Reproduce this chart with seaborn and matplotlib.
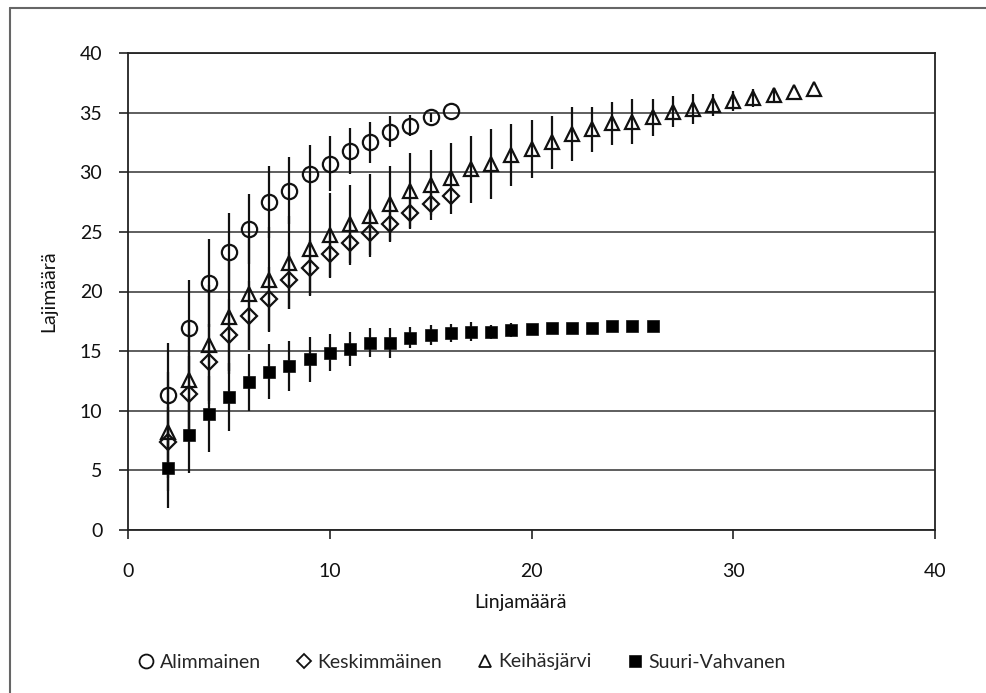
import matplotlib
matplotlib.use("Agg")
import matplotlib.pyplot as plt
import pandas as pd
import seaborn as sns
from matplotlib.lines import Line2D

# ---- data -------------------------------------------------------------
alim_x = list(range(2, 17))
alim_y = [11.3, 16.95, 20.7, 23.3, 25.25, 27.5, 28.45, 29.85, 30.7, 31.8,
          32.5, 33.4, 33.9, 34.6, 35.1]
alim_sd = [4.4, 4.0, 3.7, 3.3, 2.95, 3.0, 2.8, 2.45, 2.3, 1.95,
           1.75, 1.3, 0.9, 0.4, 0.0]

kesk_x = list(range(2, 17))
kesk_y = [7.35, 11.4, 14.05, 16.35, 17.97, 19.35, 20.93, 22.0, 23.17, 24.1,
          24.88, 25.7, 26.55, 27.34, 28.0]
kesk_sd = [3.0, 3.2, 3.2, 3.0, 2.9, 2.7, 2.4, 2.3, 2.0, 1.9,
           1.8, 1.5, 1.2, 0.9, 0.0]

keih_x = list(range(2, 35))
keih_y = [8.25, 12.58, 15.55, 17.9, 19.78, 20.98, 22.4, 23.55, 24.72, 25.65,
          26.36, 27.34, 28.45, 28.93, 29.49, 30.25, 30.69, 31.45, 31.95, 32.5,
          33.2, 33.6, 34.1, 34.24, 34.6, 35.08, 35.27, 35.64, 36.0, 36.2,
          36.48, 36.76, 36.96]
keih_sd = [5.0, 5.0, 5.0, 4.8, 4.7, 4.4, 3.9, 3.9, 3.5, 3.3,
           3.5, 3.2, 3.2, 2.9, 3.0, 2.8, 2.9, 2.6, 2.45, 2.2,
           2.25, 1.9, 1.8, 1.9, 1.55, 1.3, 1.25, 0.95, 0.85, 0.75,
           0.6, 0.0, 0.0]

suuri_x = list(range(2, 27))
suuri_y = [5.17, 7.97, 9.73, 11.18, 12.38, 13.28, 13.78, 14.3, 14.87, 15.18,
           15.7, 15.68, 16.13, 16.35, 16.49, 16.63, 16.63, 16.77, 16.83, 16.96,
           16.96, 16.96, 17.1, 17.1, 17.1]
suuri_sd = [3.35, 3.17, 3.16, 2.85, 2.4, 2.3, 2.1, 1.85, 1.55, 1.4,
            1.2, 1.25, 0.9, 0.85, 0.75, 0.8, 0.6, 0.55, 0.35, 0.4,
            0.25, 0.2, 0.1, 0.05, 0.0]

series_names = ["Alimmainen", "Keskimmäinen", "Keihäsjärvi", "Suuri-Vahvanen"]
x_label = "Linjamäärä"
y_label = "Lajimäärä"
x_ticks = [0, 10, 20, 30, 40]
y_ticks = [0, 5, 10, 15, 20, 25, 30, 35, 40]

frames = []
for name, xs, ys, sds in zip(series_names,
                             [alim_x, kesk_x, keih_x, suuri_x],
                             [alim_y, kesk_y, keih_y, suuri_y],
                             [alim_sd, kesk_sd, keih_sd, suuri_sd]):
    frames.append(pd.DataFrame({"series": name, "x": xs, "y": ys, "sd": sds}))
df = pd.concat(frames, ignore_index=True)

# ---- style ------------------------------------------------------------
sns.set_theme(style="white")
plt.rcParams["font.family"] = ["Lato", "DejaVu Sans"]
plt.rcParams["font.size"] = 14

marker_styles = {
    "Alimmainen":     dict(marker="o", ms=11, mfc="none", mew=1.6),
    "Keskimmäinen":   dict(marker="D", ms=8, mfc="none", mew=1.6),
    "Keihäsjärvi":    dict(marker="^", ms=10.5, mfc="none", mew=1.6),
    "Suuri-Vahvanen": dict(marker="s", ms=9, mfc="black", mew=0.5),
}

fig = plt.figure(figsize=(9.87, 6.93), dpi=100)
ax = fig.add_axes([128 / 987, 1 - 530 / 693, (935 - 128) / 987, (530 - 53) / 693])

# error bars
for name in series_names:
    sub = df[df["series"] == name]
    ax.errorbar(sub["x"], sub["y"], yerr=sub["sd"], fmt="none",
                ecolor="#111111", elinewidth=1.6, capsize=0, zorder=3)

# markers via seaborn
for name in series_names:
    sub = df[df["series"] == name]
    st = marker_styles[name]
    sns.lineplot(data=sub, x="x", y="y", ax=ax, estimator=None, errorbar=None,
                 linestyle="none", marker=st["marker"], markersize=st["ms"],
                 markerfacecolor=st["mfc"], markeredgecolor="#111111",
                 markeredgewidth=st["mew"], color="#111111", zorder=4,
                 legend=False, sort=False)

ax.set_xlim(0, 40)
ax.set_ylim(0, 40)
ax.set_xticks(x_ticks)
ax.set_yticks(y_ticks)
ax.yaxis.grid(True, color="#333333", linewidth=1.1, zorder=0)
ax.xaxis.grid(False)
ax.set_axisbelow(True)
for sp in ax.spines.values():
    sp.set_color("#222222")
    sp.set_linewidth(1.3)
ax.tick_params(axis="both", direction="out", length=6.5, width=1.2,
               color="#222222", labelsize=14, labelcolor="#111111")
ax.tick_params(axis="y", pad=12)
ax.tick_params(axis="x", pad=17)
ax.tick_params(left=True, bottom=True)

ax.set_xlabel(x_label, fontsize=14, color="#111111")
ax.set_ylabel(y_label, fontsize=14, color="#111111")
ax.xaxis.set_label_coords(0.486, -0.135)
ax.yaxis.set_label_coords(-0.088, 0.5)

# legend
handles = []
leg_styles = {
    "Alimmainen":     dict(marker="o", ms=10, mfc="none", mew=1.3),
    "Keskimmäinen":   dict(marker="D", ms=7.5, mfc="none", mew=1.3),
    "Keihäsjärvi":    dict(marker="^", ms=8, mfc="none", mew=1.3),
    "Suuri-Vahvanen": dict(marker="s", ms=8, mfc="black", mew=0.5),
}
for name in series_names:
    st = leg_styles[name]
    handles.append(Line2D([], [], linestyle="none", marker=st["marker"],
                          markersize=st["ms"], markerfacecolor=st["mfc"],
                          markeredgecolor="#111111", markeredgewidth=st["mew"],
                          label=name))
fig.legend(handles=handles, loc="center", ncol=4, frameon=False,
           bbox_to_anchor=(460 / 987, 1 - 662 / 693), fontsize=14,
           handletextpad=0.1, columnspacing=1.6, handlelength=1.2)

# outer frame (left and top edges)
fig.add_artist(Line2D([10 / 987, 10 / 987], [0, 1 - 8 / 693], transform=fig.transFigure,
                      color="#666666", linewidth=1.5))
fig.add_artist(Line2D([10 / 987, 1.0], [1 - 8 / 693, 1 - 8 / 693], transform=fig.transFigure,
                      color="#666666", linewidth=1.5))

fig.savefig("out.png", dpi=100)
